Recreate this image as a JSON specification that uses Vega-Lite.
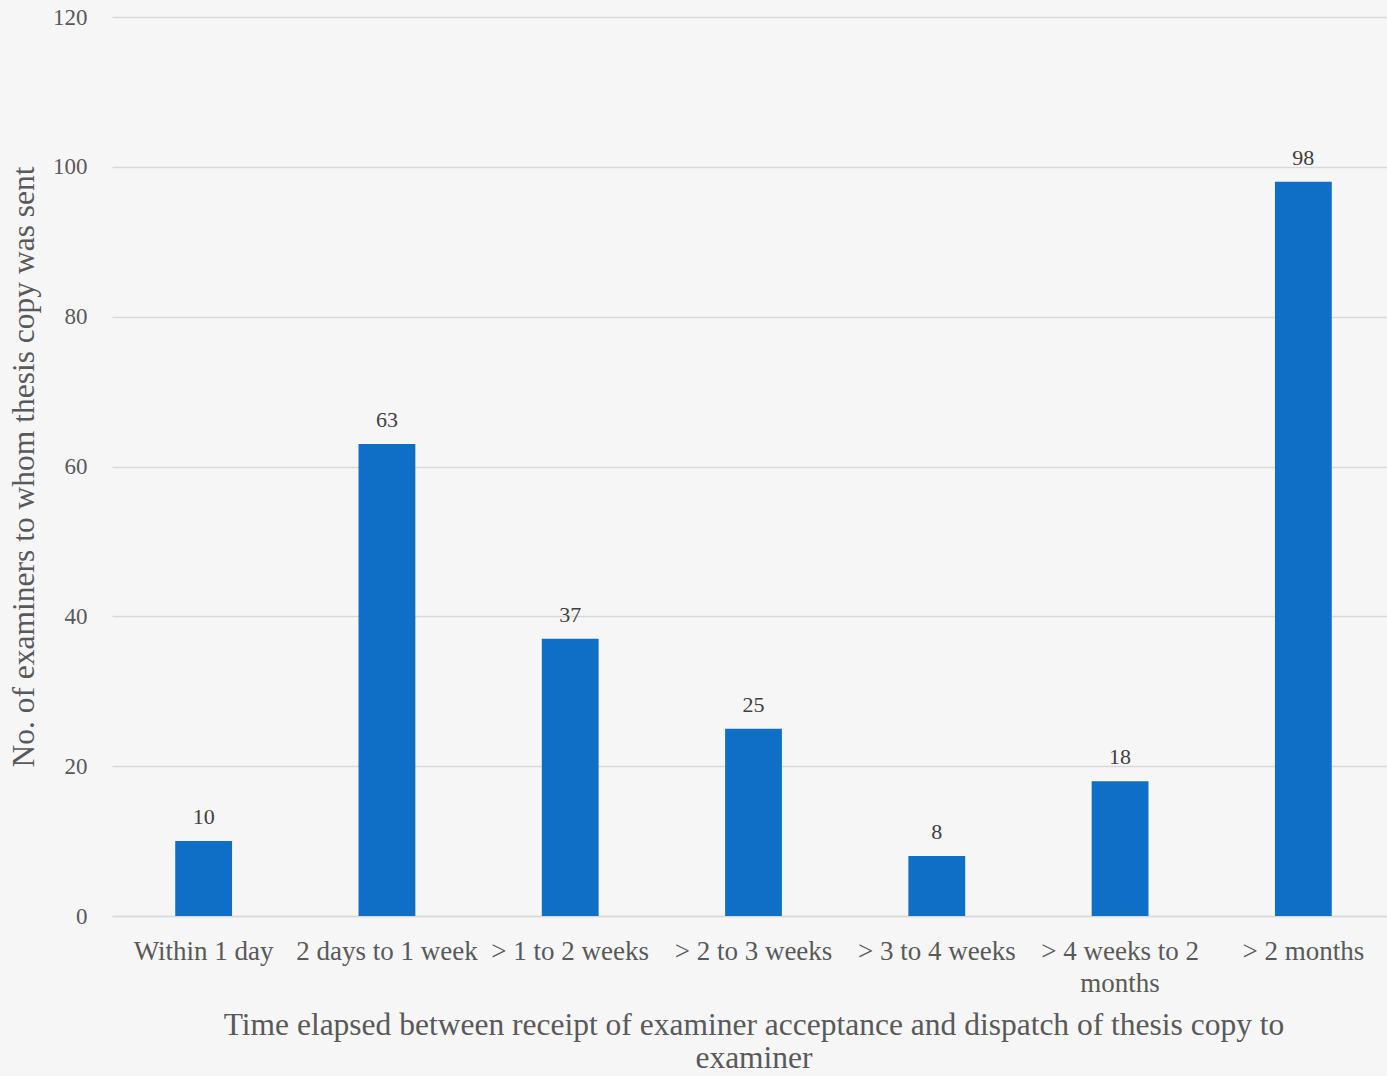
{
  "$schema": "https://vega.github.io/schema/vega-lite/v6.json",
  "width": 1283,
  "height": 899,
  "autosize": {"type": "none"},
  "padding": {"left": 112, "top": 17, "right": 0, "bottom": 160},
  "background": "#f6f6f6",
  "config": {
    "view": {"stroke": null},
    "font": "Liberation Serif",
    "axis": {"labelColor": "#595959", "titleColor": "#595959", "titleFontWeight": "normal"}
  },
  "data": {
    "values": [
      {"period": "Within 1 day", "examiners": 10},
      {"period": "2 days to 1 week", "examiners": 63},
      {"period": "> 1 to 2 weeks", "examiners": 37},
      {"period": "> 2 to 3 weeks", "examiners": 25},
      {"period": "> 3 to 4 weeks", "examiners": 8},
      {"period": "> 4 weeks to 2 months", "examiners": 18},
      {"period": "> 2 months", "examiners": 98}
    ]
  },
  "encoding": {
    "x": {
      "field": "period",
      "type": "nominal",
      "sort": null,
      "scale": {"paddingInner": 0.69, "paddingOuter": 0.345},
      "axis": {
        "title": ["Time elapsed between receipt of examiner acceptance and dispatch of thesis copy to", "examiner"],
        "titleFontSize": 31.5,
        "titleLineHeight": 33,
        "titlePadding": 13,
        "labelFontSize": 27,
        "labelLineHeight": 32,
        "labelPadding": 22,
        "labelAngle": 0,
        "labelLimit": 400,
        "labelOverlap": false,
        "labelExpr": "datum.label == '> 4 weeks to 2 months' ? ['> 4 weeks to 2', 'months'] : datum.label",
        "ticks": false,
        "domainColor": "#d9d9d9",
        "domainWidth": 1.5
      }
    },
    "y": {
      "field": "examiners",
      "type": "quantitative",
      "scale": {"domain": [0, 120]},
      "axis": {
        "title": "No. of examiners to whom thesis copy was sent",
        "titleFontSize": 31.5,
        "titlePadding": 12,
        "labelFontSize": 23,
        "labelPadding": 25,
        "labelOverlap": false,
        "values": [0, 20, 40, 60, 80, 100, 120],
        "ticks": false,
        "domain": false,
        "gridColor": "#d9d9d9",
        "gridWidth": 1.5
      }
    }
  },
  "layer": [
    {"mark": {"type": "bar", "color": "#0f6fc6"}},
    {
      "mark": {"type": "text", "dy": -24, "fontSize": 22, "color": "#404040"},
      "encoding": {"text": {"field": "examiners", "type": "quantitative"}}
    }
  ]
}
